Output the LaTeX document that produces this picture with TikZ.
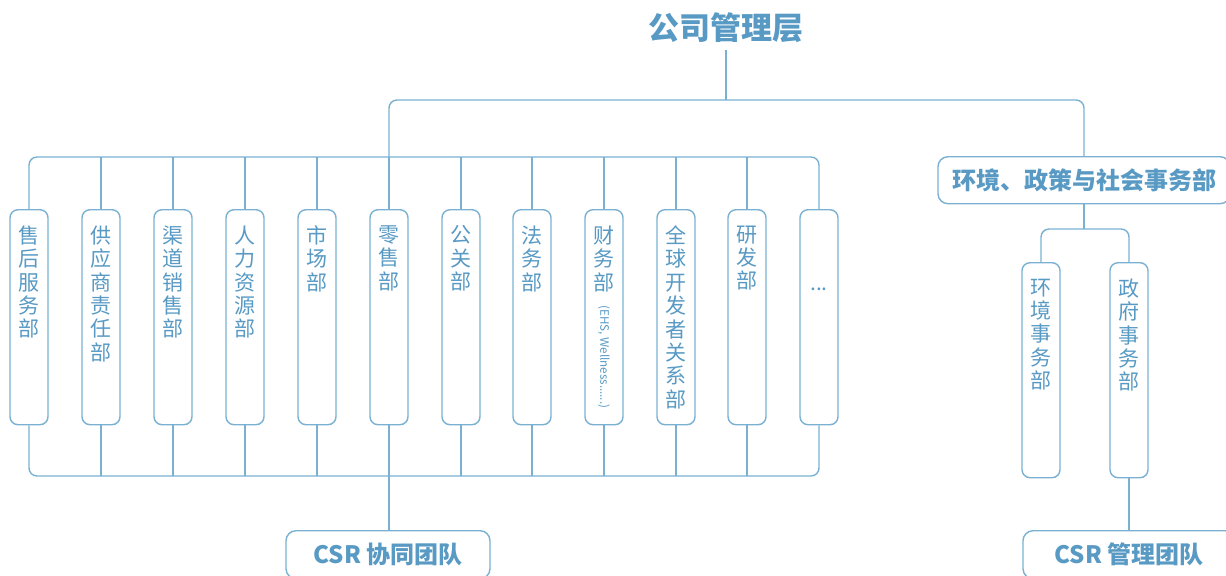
\documentclass[tikz,border=0pt]{standalone}
\usepackage{fontspec}
\setmainfont{Noto Sans CJK SC}
\definecolor{orgline}{RGB}{122,177,210}
\definecolor{orgtext}{RGB}{88,154,196}
\newcommand{\vlab}[1]{\parbox[t][91.5pt][t]{19pt}{\centering\fontsize{10.5}{11.7}\selectfont #1}}
\tikzset{
	link/.style={draw=orgline, line width=0.7pt, rounded corners=4pt},
	dept/.style={draw=orgline, line width=0.7pt, rounded corners=4pt, fill=white, text=orgtext, inner xsep=0pt, inner ysep=8pt, anchor=north},
	head/.style={text=orgtext, font=\bfseries\fontsize{15.5}{17}\selectfont},
	team/.style={draw=orgline, line width=0.7pt, rounded corners=5pt, fill=white, text=orgtext, font=\bfseries\fontsize{12}{14}\selectfont, anchor=north, minimum height=24pt}
}

\begin{document}
\begin{tikzpicture}[x=0.5pt, y=-0.5pt]
		%%%%% START %%%%%
		\useasboundingbox (0, 0) rectangle (1226, 575);
		\clip (0, 0) rectangle (1226, 575);
		
		\coordinate (topbus) at (0, 100);
		\coordinate (upbus) at (0, 157);
		\coordinate (lowbus) at (0, 476);
		\coordinate (rbus) at (0, 229);
		
		\node[head] (top) at (726, 28) {公司管理层};
		
		\node[dept] (b1) at (29, 209) {\vlab{售\\后\\服\\务\\部}};
		\node[dept] (b2) at (101, 209) {\vlab{供\\应\\商\\责\\任\\部}};
		\node[dept] (b3) at (173, 209) {\vlab{渠\\道\\销\\售\\部}};
		\node[dept] (b4) at (245, 209) {\vlab{人\\力\\资\\源\\部}};
		\node[dept] (b5) at (317, 209) {\vlab{市\\场\\部}};
		\node[dept] (b6) at (389, 209) {\vlab{零\\售\\部}};
		\node[dept] (b7) at (461, 209) {\vlab{公\\关\\部}};
		\node[dept] (b8) at (532, 209) {\vlab{法\\务\\部}};
		\node[dept] (b9) at (604, 209) {\vlab{财\\务\\部\\[-4pt]\rotatebox{-90}{\fontsize{5.8}{6}\selectfont (EHS, Wellness......)}}};
		\node[dept] (b10) at (676, 209) {\vlab{全\\球\\开\\发\\者\\关\\系\\部}};
		\node[dept] (b11) at (747, 209) {\vlab{研\\发\\部}};
		\node[dept] (b12) at (819, 209) {\vlab{\phantom{部}\\\phantom{部}\\...}};
		
		\node[draw=orgline, line width=0.7pt, rounded corners=5pt, fill=white, text=orgtext, font=\bfseries\fontsize{12}{14}\selectfont, minimum width=146pt, minimum height=23.5pt, anchor=north] (env) at (1084, 156) {环境、政策与社会事务部};
		
		\node[dept] (r1) at (1041, 262) {\vlab{环\\境\\事\\务\\部}};
		\node[dept] (r2) at (1129, 262) {\vlab{政\\府\\事\\务\\部}};
		
		\node[team, minimum width=102pt] (csr1) at (388, 530) {CSR 协同团队};
		\node[team, minimum width=106pt] (csr2) at (1129, 530) {CSR 管理团队};
		
		%%%%% TOP %%%%%
		\draw[link] (top.south) -- (top.south |- topbus);
		\draw[link] (b6.north |- upbus) -- (b6.north |- topbus) -- (env.north |- topbus) -- (env.north);
		
		\draw[link] (b1.north) -- (b1.north |- upbus) -- (b12.north |- upbus) -- (b12.north);
		\draw[link] (b2.north) -- (b2.north |- upbus);
		\draw[link] (b3.north) -- (b3.north |- upbus);
		\draw[link] (b4.north) -- (b4.north |- upbus);
		\draw[link] (b5.north) -- (b5.north |- upbus);
		\draw[link] (b6.north) -- (b6.north |- upbus);
		\draw[link] (b7.north) -- (b7.north |- upbus);
		\draw[link] (b8.north) -- (b8.north |- upbus);
		\draw[link] (b9.north) -- (b9.north |- upbus);
		\draw[link] (b10.north) -- (b10.north |- upbus);
		\draw[link] (b11.north) -- (b11.north |- upbus);
		
		%%%%% BOTTOM %%%%%
		\draw[link] (b1.south) -- (b1.south |- lowbus) -- (b12.south |- lowbus) -- (b12.south);
		\draw[link] (b2.south) -- (b2.south |- lowbus);
		\draw[link] (b3.south) -- (b3.south |- lowbus);
		\draw[link] (b4.south) -- (b4.south |- lowbus);
		\draw[link] (b5.south) -- (b5.south |- lowbus);
		\draw[link] (b6.south) -- (b6.south |- lowbus);
		\draw[link] (b7.south) -- (b7.south |- lowbus);
		\draw[link] (b8.south) -- (b8.south |- lowbus);
		\draw[link] (b9.south) -- (b9.south |- lowbus);
		\draw[link] (b10.south) -- (b10.south |- lowbus);
		\draw[link] (b11.south) -- (b11.south |- lowbus);
		\draw[link] (b6.south |- lowbus) -- (csr1.north -| b6.south);
		
		%%%%% RIGHT %%%%%
		\draw[link] (env.south) -- (env.south |- rbus);
		\draw[link] (r1.north) -- (r1.north |- rbus) -- (r2.north |- rbus) -- (r2.north);
		\draw[link] (r2.south) -- (csr2.north);
		
		%%%%% END %%%%%
	\end{tikzpicture}
\end{document}
